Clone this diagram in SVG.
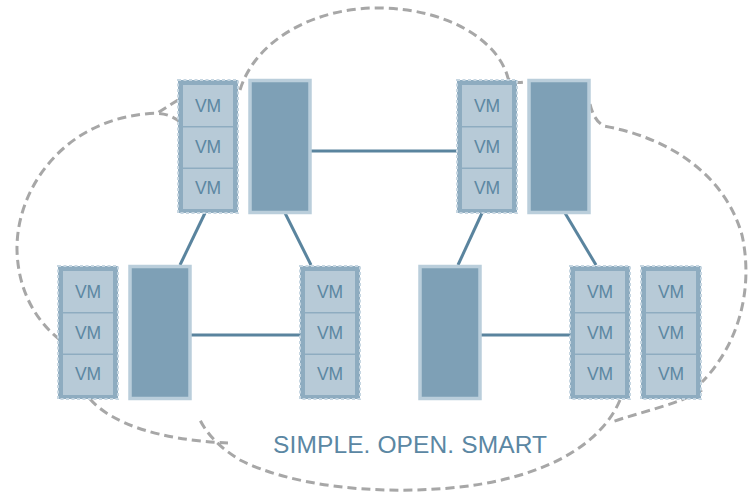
<svg xmlns="http://www.w3.org/2000/svg" width="749" height="497" viewBox="0 0 749 497">
  <style>
    .cloud { fill: none; stroke: #a7a7a7; stroke-width: 3; stroke-dasharray: 9 5; stroke-linecap: butt; }
    .link { stroke: #5a849e; stroke-width: 3; fill: none; }
    .frame { fill: #8eacc0; stroke: #c6d6e1; stroke-width: 2; stroke-dasharray: 3 2.5; }
    .cell { fill: #b7cad7; }
    .vm { font-family: "Liberation Sans", Arial, sans-serif; font-size: 17.5px; fill: #5c87a2; text-anchor: middle; }
    .srv { fill: #7ea0b6; stroke: #bacedb; stroke-width: 3.5; }
    .title { font-family: "Liberation Sans", Arial, sans-serif; font-size: 24.5px; fill: #5b87a3; }
  </style>

  <rect width="749" height="497" fill="#ffffff"/>

  <!-- dashed cloud outline, drawn first so the nodes sit on top -->
  <g id="cloud">
    <path class="cloud" d="M 240,90 C 256,38 318,6 384,8 C 448,10 498,40 508,78 Q 512,84 524,82"/>
    <path class="cloud" d="M 178,100 L 156,114"/>
    <path class="cloud" d="M 180,122 C 170,114 160,112 145,114 C 62,122 16,190 17,250 C 18,290 35,320 60,340"/>
    <path class="cloud" d="M 590,104 Q 594,121 604,126 C 670,138 725,175 742,235 C 754,290 738,345 702,382"/>
    <path class="cloud" d="M 702,390 C 680,404 640,412 612,422"/>
    <path class="cloud" d="M 620,400 C 600,447 540,480 450,488 C 370,495 290,485 240,460 C 222,449 208,436 200,420"/>
    <path class="cloud" d="M 90,399 C 112,424 160,440 228,443"/>
  </g>

  <!-- links between hosts -->
  <g id="connectors">
    <line class="link" x1="311" y1="151" x2="457" y2="151"/>
    <line class="link" x1="205" y1="213" x2="180" y2="265"/>
    <line class="link" x1="285" y1="213" x2="311" y2="265"/>
    <line class="link" x1="482" y1="213" x2="458" y2="265"/>
    <line class="link" x1="565" y1="213" x2="596" y2="265"/>
    <line class="link" x1="191" y1="335" x2="300" y2="335"/>
    <line class="link" x1="481" y1="335" x2="570" y2="335"/>
  </g>

  <!-- top-left host -->
  <g id="vms-top-left">
    <rect class="frame" x="178" y="80" width="60" height="133"/>
    <rect class="cell" x="183" y="85" width="50" height="41"/>
    <rect class="cell" x="183" y="127.5" width="50" height="40"/>
    <rect class="cell" x="183" y="169" width="50" height="40"/>
    <text class="vm" x="208" y="112">VM</text>
    <text class="vm" x="208" y="153">VM</text>
    <text class="vm" x="208" y="194">VM</text>
  </g>
  <g id="server-top-left">
    <rect class="srv" x="250" y="80.5" width="60" height="132"/>
  </g>

  <!-- top-right host -->
  <g id="vms-top-right">
    <rect class="frame" x="457" y="80" width="60" height="133"/>
    <rect class="cell" x="462" y="85" width="50" height="41"/>
    <rect class="cell" x="462" y="127.5" width="50" height="40"/>
    <rect class="cell" x="462" y="169" width="50" height="40"/>
    <text class="vm" x="487" y="112">VM</text>
    <text class="vm" x="487" y="153">VM</text>
    <text class="vm" x="487" y="194">VM</text>
  </g>
  <g id="server-top-right">
    <rect class="srv" x="529" y="80.5" width="60" height="132"/>
  </g>

  <!-- bottom-left host -->
  <g id="vms-bottom-left">
    <rect class="frame" x="58" y="266" width="60" height="133"/>
    <rect class="cell" x="63" y="271" width="50" height="41"/>
    <rect class="cell" x="63" y="313.5" width="50" height="40"/>
    <rect class="cell" x="63" y="355" width="50" height="40"/>
    <text class="vm" x="88" y="298">VM</text>
    <text class="vm" x="88" y="339">VM</text>
    <text class="vm" x="88" y="380">VM</text>
  </g>
  <g id="server-bottom-left">
    <rect class="srv" x="130" y="266.5" width="60" height="132"/>
  </g>

  <!-- bottom-middle VMs -->
  <g id="vms-bottom-middle">
    <rect class="frame" x="300" y="266" width="60" height="133"/>
    <rect class="cell" x="305" y="271" width="50" height="41"/>
    <rect class="cell" x="305" y="313.5" width="50" height="40"/>
    <rect class="cell" x="305" y="355" width="50" height="40"/>
    <text class="vm" x="330" y="298">VM</text>
    <text class="vm" x="330" y="339">VM</text>
    <text class="vm" x="330" y="380">VM</text>
  </g>

  <!-- bottom-right host -->
  <g id="server-bottom-right">
    <rect class="srv" x="420" y="266.5" width="60" height="132"/>
  </g>
  <g id="vms-bottom-right-a">
    <rect class="frame" x="570" y="266" width="60" height="133"/>
    <rect class="cell" x="575" y="271" width="50" height="41"/>
    <rect class="cell" x="575" y="313.5" width="50" height="40"/>
    <rect class="cell" x="575" y="355" width="50" height="40"/>
    <text class="vm" x="600" y="298">VM</text>
    <text class="vm" x="600" y="339">VM</text>
    <text class="vm" x="600" y="380">VM</text>
  </g>
  <g id="vms-bottom-right-b">
    <rect class="frame" x="641" y="266" width="60" height="133"/>
    <rect class="cell" x="646" y="271" width="50" height="41"/>
    <rect class="cell" x="646" y="313.5" width="50" height="40"/>
    <rect class="cell" x="646" y="355" width="50" height="40"/>
    <text class="vm" x="671" y="298">VM</text>
    <text class="vm" x="671" y="339">VM</text>
    <text class="vm" x="671" y="380">VM</text>
  </g>

  <g id="tagline">
    <text class="title" x="273" y="453" textLength="274" lengthAdjust="spacing">SIMPLE. OPEN. SMART</text>
  </g>
</svg>
